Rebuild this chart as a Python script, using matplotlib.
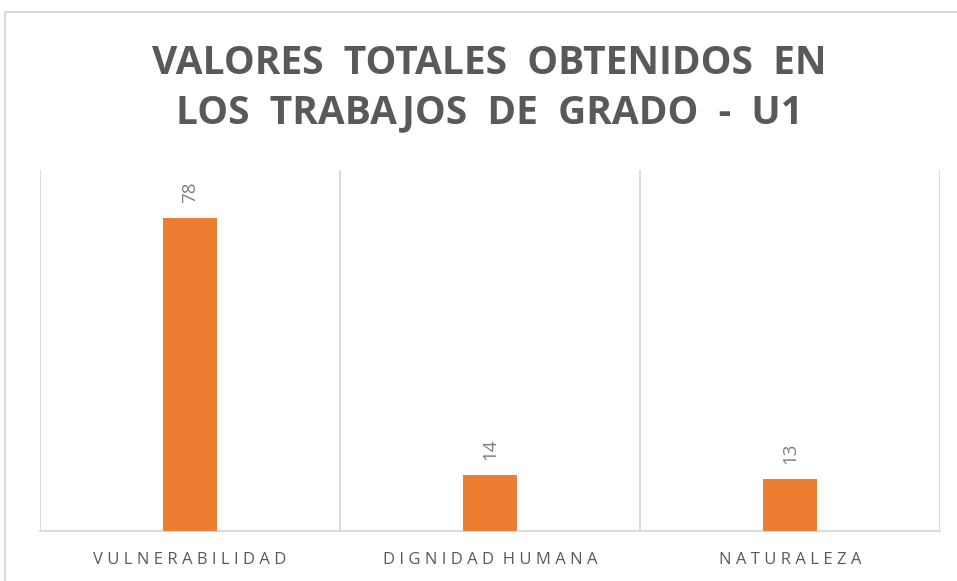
import matplotlib
matplotlib.use("Agg")
import matplotlib.pyplot as plt
from matplotlib.patches import Rectangle

categories = ["VULNERABILIDAD", "DIGNIDAD HUMANA", "NATURALEZA"]
values = [78, 14, 13]
title_lines = ["VALORES  TOTALES  OBTENIDOS  EN", "LOS  TRABAJOS  DE  GRADO  -  U1"]

W, H = 957, 581
fig = plt.figure(figsize=(W / 100, H / 100), dpi=100)
fig.patch.set_facecolor("white")

# outer chart border (partially cut off at right/bottom)
fig.add_artist(Rectangle((5 / W, -0.05), 1.1, 1 - 12 / H + 0.05, transform=fig.transFigure,
                         fill=False, edgecolor="#D9D9D9", linewidth=1.5))

ax = fig.add_axes([40 / W, 1 - 531 / H, 900 / W, (531 - 170) / H])
x = list(range(len(categories)))
ax.bar(x, values, width=0.18, color="#ED7D31", zorder=3)
ax.set_xlim(-0.5, len(categories) - 0.5)
ax.set_ylim(0, 90)

for s in ["top", "left", "right"]:
    ax.spines[s].set_visible(False)
ax.spines["bottom"].set_color("#D9D9D9")
ax.spines["bottom"].set_linewidth(1.3)
ax.set_yticks([])
ax.set_xticks([i - 0.5 for i in range(len(categories) + 1)], minor=True)
ax.grid(True, which="minor", axis="x", color="#D9D9D9", linewidth=1.3)
ax.tick_params(axis="x", which="both", length=0)

def spaced(s):
    return "  ".join(" ".join(w) for w in s.split(" "))

ax.set_xticks(x)
ax.set_xticklabels([spaced(c) for c in categories], fontsize=12, color="#595959",
                   family="Open Sans")
ax.tick_params(axis="x", pad=15)

for xi, v in zip(x, values):
    ax.annotate(str(v), (xi, v), xytext=(0, 11), textcoords="offset points",
                rotation=90, ha="center", va="bottom", fontsize=13.5, color="#7F7F7F",
                family="Open Sans")

fig.text(489 / W, 1 - 63 / H, title_lines[0], ha="center", va="center", fontsize=28,
         fontweight="bold", color="#595959", family="Open Sans", fontstretch="condensed")
fig.text(489 / W, 1 - 113 / H, title_lines[1], ha="center", va="center", fontsize=28,
         fontweight="bold", color="#595959", family="Open Sans", fontstretch="condensed")

fig.savefig("out.png", dpi=100)
